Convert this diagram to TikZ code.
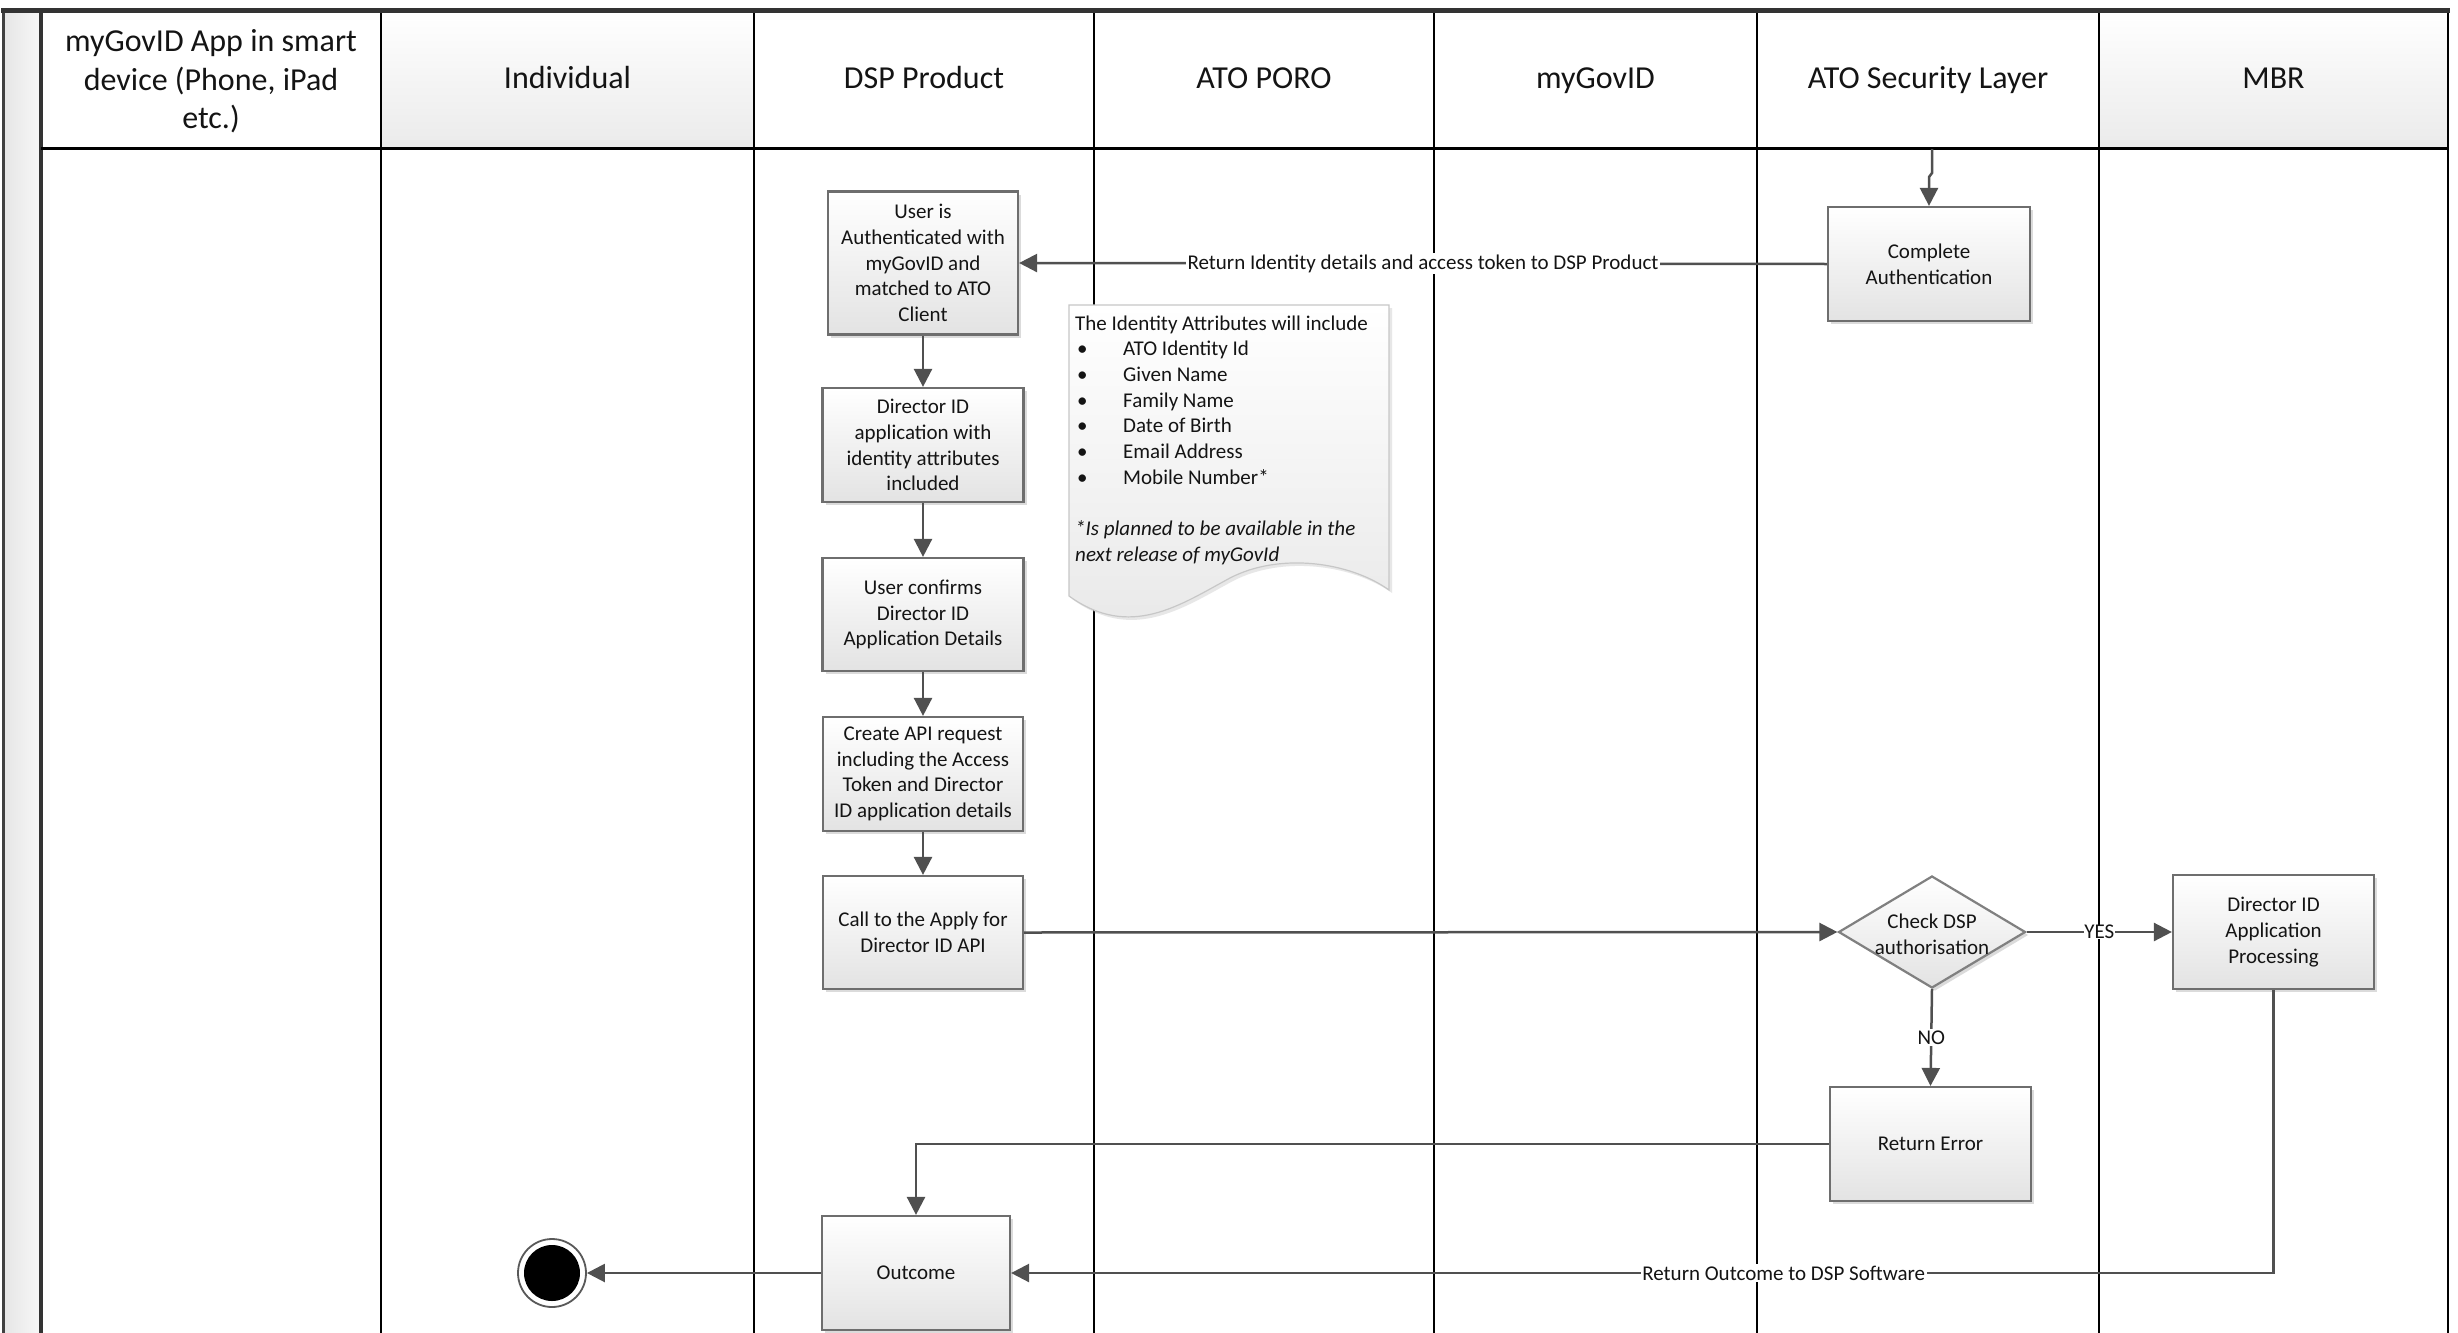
\documentclass[tikz,border=0pt]{standalone}
\usepackage{fontspec}
\setmainfont{Carlito}
\usetikzlibrary{arrows.meta,shapes.geometric,shadows}
\definecolor{lineC}{HTML}{505050}
\definecolor{boxC}{HTML}{6E6E6E}
\definecolor{txtC}{HTML}{141414}
\tikzset{
  lane/.style={line width=2.5pt, draw=black},
  hdr/.style={inner sep=0pt, align=center, font=\fontsize{32}{38.5}\selectfont, text=txtC},
  hdrone/.style={hdr, text height=22pt, text depth=3.4pt},
  hdrshade/.style={hdrone, top color=white, bottom color=black!8},
  box/.style={draw=boxC, line width=2.2pt, top color=white, bottom color=black!11, align=center, inner sep=2pt,
    font=\fontsize{21}{25.7}\selectfont, text=txtC,
    drop shadow={shadow xshift=3pt, shadow yshift=-3pt, fill=black!40, opacity=0.35}},
  conn/.style={draw=lineC, line width=2.5pt, -{Triangle[length=18pt,width=18pt]}},
  lbl/.style={fill=white, inner sep=1.5pt, font=\fontsize{21}{25}\selectfont, text=txtC},
  cardtxt/.style={inner sep=0pt, font=\fontsize{21}{25.7}\selectfont, text=txtC},
}
\begin{document}
\begin{tikzpicture}[x=1pt,y=-1pt]
\useasboundingbox (0,0) rectangle (2458,1333);
\fill[white] (0,0) rectangle (2458,1333);
% left strip
\shade[left color=black!10, right color=black!3] (3,10) rectangle (41,1333);
% header cells
\node[hdr, minimum width=340pt, minimum height=138pt] (h1) at (211,81.5) {myGovID App in smart\\device (Phone, iPad\\etc.)};
\node[hdrshade, minimum width=373pt, minimum height=138pt] (h2) at (567.5,79) {Individual};
\node[hdrone, minimum width=340pt, minimum height=138pt] (h3) at (924,79) {DSP Product};
\node[hdrone, minimum width=340pt, minimum height=138pt] (h4) at (1264,79) {ATO PORO};
\node[hdrone, minimum width=323pt, minimum height=138pt] (h5) at (1595.5,79) {myGovID};
\node[hdrone, minimum width=342pt, minimum height=138pt] (h6) at (1928,79) {ATO Security Layer};
\node[hdrshade, minimum width=349pt, minimum height=138pt] (h7) at (2273.5,79) {MBR};
% lanes
\foreach \x in {381,754,1094,1434,1757,2099,2448} \draw[lane] (\x,10) -- (\x,1333);
\draw[line width=4pt, black!80] (41,10) -- (41,1333);
\draw[line width=3pt, black!75] (3,10) -- (3,1333);
\draw[line width=3pt] (41,148) -- (2448,148);
\draw[line width=5pt, black!80] (1,10) -- (2450,10);
% note card
\path[draw=black!22, line width=1.2pt, top color=white, bottom color=black!9,
  drop shadow={shadow xshift=3pt, shadow yshift=-3pt, fill=black!30, opacity=0.3}]
  (1069,305) -- (1389,305) -- (1389,590)
  .. controls (1350,562) and (1280,552) .. (1230,578)
  .. controls (1180,605) and (1130,640) .. (1069,596) -- cycle;
\node[cardtxt, anchor=base west] (ct0) at (1075,330) {The Identity Attributes will include};
\foreach \t [count=\i] in {ATO Identity Id, Given Name, Family Name, Date of Birth, Email Address, Mobile Number*} {
  \node[cardtxt, anchor=base west] (bul\i) at (1077,{330+25.7*\i}) {•};
  \node[cardtxt, anchor=base west] (item\i) at (1123,{330+25.7*\i}) {\t};
}
\node[cardtxt, anchor=base west, font=\fontsize{21}{25.7}\selectfont\itshape] (ct7) at (1075,535) {*Is planned to be available in the};
\node[cardtxt, anchor=base west, font=\fontsize{21}{25.7}\selectfont\itshape] (ct8) at (1075,561) {next release of myGovId};
% process boxes
\node[box, minimum width=190pt, minimum height=143pt] (b1) at (923,263) {User is\\Authenticated with\\myGovID and\\matched to ATO\\Client};
\node[box, minimum width=201pt, minimum height=114pt] (b2) at (923,445) {Director ID\\application with\\identity attributes\\included};
\node[box, minimum width=201pt, minimum height=113pt] (b3) at (923,614.5) {User confirms\\Director ID\\Application Details};
\node[box, minimum width=200pt, minimum height=114pt] (b4) at (923,774) {Create API request\\including the Access\\Token and Director\\ID application details};
\node[box, minimum width=200pt, minimum height=113pt] (b5) at (923,932.5) {Call to the Apply for\\Director ID API};
\node[box, minimum width=188pt, minimum height=114pt] (out) at (916,1273) {Outcome};
\node[box, minimum width=202pt, minimum height=114pt] (ca) at (1929,264) {Complete\\Authentication};
\node[box, diamond, draw=black!50, minimum width=187pt, minimum height=112pt, inner sep=0pt] (dia) at (1932,932) {};
\node[cardtxt, align=center] (diat) at (1932,934) {Check DSP\\authorisation};
\node[box, minimum width=201pt, minimum height=114pt] (mbr) at (2273.5,932) {Director ID\\Application\\Processing};
\node[box, minimum width=201pt, minimum height=114pt] (err) at (1930.5,1144) {Return Error};
% end state
\node[circle, draw=black!65, line width=1.8pt, fill=white, minimum size=68pt, inner sep=0pt] (endc) at (552,1273) {};
\fill[black] (endc.center) circle[radius=28pt];
% connectors
\coordinate (topin) at (1932,149);
\draw[conn] (topin) -- ++(0,24) -- ++(-3,4) -- (ca.north);
\draw[conn] (ca.west) -- node[lbl]{Return Identity details and access token to DSP Product} (b1.east);
\draw[conn] (b1.south) -- (b2.north);
\draw[conn] (b2.south) -- (b3.north);
\draw[conn] (b3.south) -- (b4.north);
\draw[conn] (b4.south) -- (b5.north);
\draw[conn] (b5.east) -- (dia.west);
\draw[conn] (dia.east) -- node[lbl, inner sep=0.5pt]{YES} (mbr.west);
\draw[conn] (dia.south) -- node[lbl]{NO} (err.north);
\draw[conn] (err.west) -| (out.north);
\draw[conn] (mbr.south) |- node[lbl, pos=0.694]{Return Outcome to DSP Software} (out.east);
\draw[conn] (out.west) -- (endc.east);
\end{tikzpicture}
\end{document}
